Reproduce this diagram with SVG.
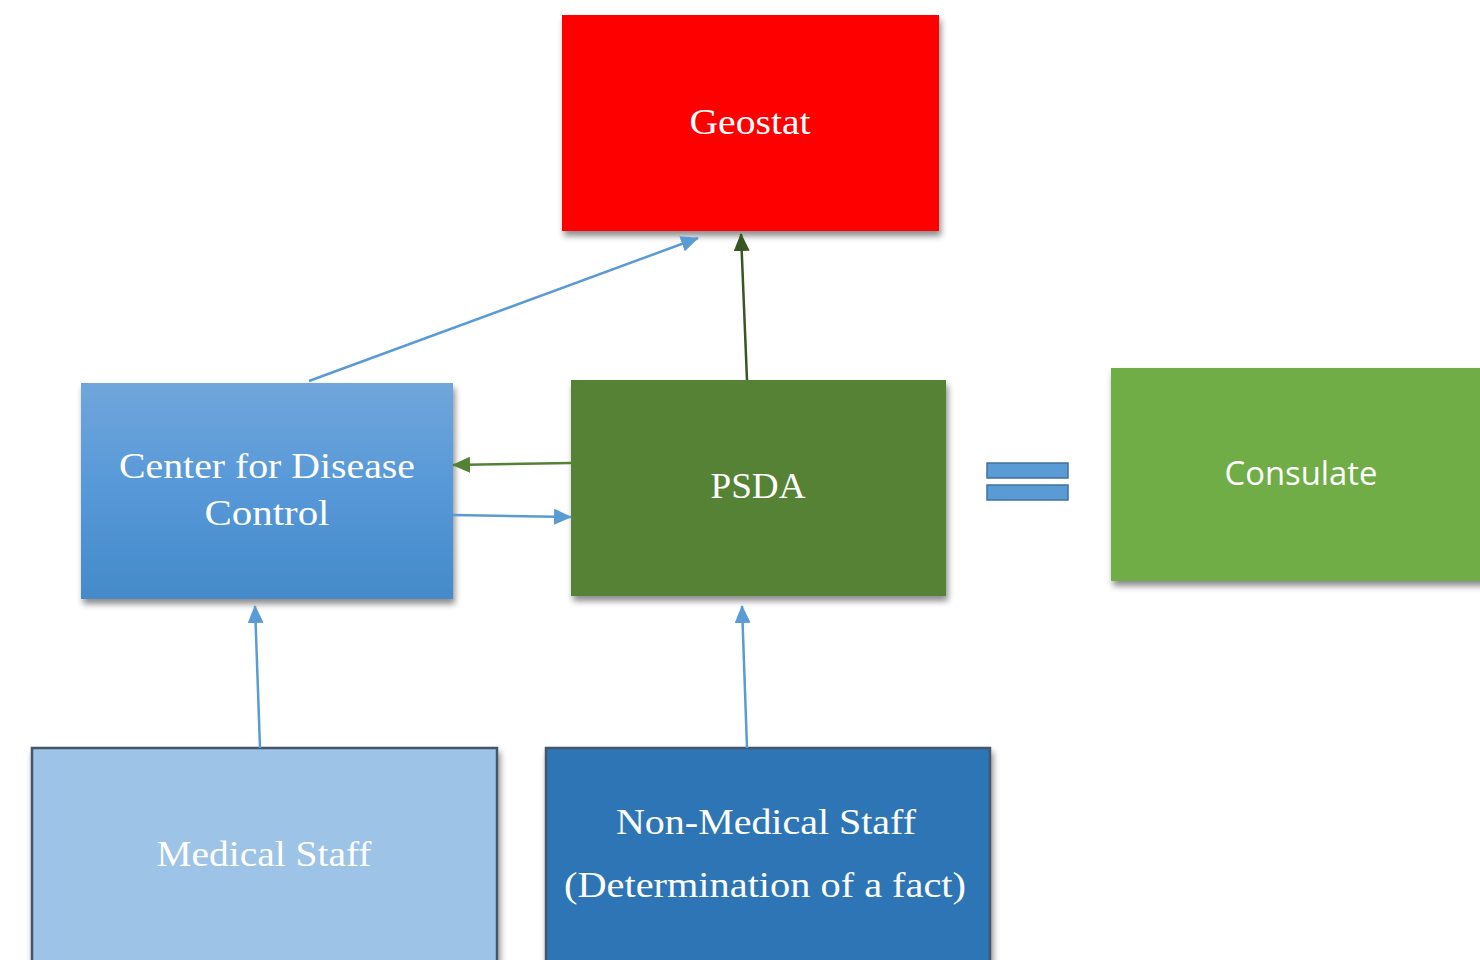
<svg xmlns="http://www.w3.org/2000/svg" width="1480" height="960" viewBox="0 0 1480 960">
<style>
.lbl{font-family:"Liberation Serif","DejaVu Serif",serif;font-size:36px;fill:#ffffff;text-anchor:middle}
.sans{font-family:"Open Sans","Liberation Sans",sans-serif;font-size:32px;fill:#ffffff;text-anchor:middle}
.blue{stroke:#5B9BD5;stroke-width:2.5;fill:none}
.dg{stroke:#375623;stroke-width:2.5;fill:none}
.mg{stroke:#548235;stroke-width:2.5;fill:none}
</style>
<defs>
<filter id="sh" x="-10%" y="-10%" width="125%" height="130%">
<feDropShadow dx="2" dy="5" stdDeviation="3" flood-color="#000" flood-opacity="0.45"/>
</filter>
<linearGradient id="cdcg" x1="0" y1="0" x2="0" y2="1">
<stop offset="0" stop-color="#70A6DB"/>
<stop offset="0.5" stop-color="#5698D8"/>
<stop offset="1" stop-color="#448AC9"/>
</linearGradient>
<marker id="ab" markerUnits="userSpaceOnUse" markerWidth="18" markerHeight="16" refX="17" refY="8" orient="auto">
<path d="M0,0 L18,8 L0,16 Z" fill="#5B9BD5"/>
</marker>
<marker id="adg" markerUnits="userSpaceOnUse" markerWidth="18" markerHeight="16" refX="17" refY="8" orient="auto">
<path d="M0,0 L18,8 L0,16 Z" fill="#375623"/>
</marker>
<marker id="amg" markerUnits="userSpaceOnUse" markerWidth="18" markerHeight="16" refX="17" refY="8" orient="auto">
<path d="M0,0 L18,8 L0,16 Z" fill="#548235"/>
</marker>
</defs>
<rect width="1480" height="960" fill="#ffffff"/>

<g id="geostat">
<rect x="562" y="15" width="377" height="216" fill="#FF0000" filter="url(#sh)"/>
<text class="lbl" x="750" y="134" textLength="121" lengthAdjust="spacingAndGlyphs">Geostat</text>
</g>

<g id="cdc">
<rect x="81" y="383" width="372" height="216" fill="url(#cdcg)" filter="url(#sh)"/>
<text class="lbl" x="267" y="478" textLength="296" lengthAdjust="spacingAndGlyphs">Center for Disease</text>
<text class="lbl" x="267" y="525" textLength="125" lengthAdjust="spacingAndGlyphs">Control</text>
</g>

<g id="psda">
<rect x="571" y="380" width="375" height="216" fill="#548235" filter="url(#sh)"/>
<text class="lbl" x="758" y="498" textLength="95" lengthAdjust="spacingAndGlyphs">PSDA</text>
</g>

<g id="equals">
<rect x="987" y="463" width="81" height="15" fill="#5B9BD5" stroke="#41719C" stroke-width="1.5"/>
<rect x="987" y="485" width="81" height="15" fill="#5B9BD5" stroke="#41719C" stroke-width="1.5"/>
</g>

<g id="consulate">
<rect x="1111" y="368" width="380" height="213" fill="#70AD47" filter="url(#sh)"/>
<text class="sans" x="1301" y="485" textLength="153" lengthAdjust="spacingAndGlyphs">Consulate</text>
</g>

<g id="medical">
<rect x="32" y="748" width="465" height="230" fill="#9DC3E6" stroke="#44546A" stroke-width="2.5" filter="url(#sh)"/>
<text class="lbl" x="264" y="866" textLength="215" lengthAdjust="spacingAndGlyphs">Medical Staff</text>
</g>

<g id="nonmedical">
<rect x="546" y="748" width="444" height="230" fill="#2E75B6" stroke="#44546A" stroke-width="2.5" filter="url(#sh)"/>
<text class="lbl" x="766" y="834" textLength="300" lengthAdjust="spacingAndGlyphs">Non-Medical Staff</text>
<text class="lbl" x="765" y="897" textLength="402" lengthAdjust="spacingAndGlyphs">(Determination of a fact)</text>
</g>

<g id="connectors">
<line class="blue" x1="309" y1="381" x2="698" y2="238" marker-end="url(#ab)"/>
<line class="dg" x1="747" y1="380" x2="741" y2="234" marker-end="url(#adg)"/>
<line class="mg" x1="571" y1="463" x2="453" y2="465" marker-end="url(#amg)"/>
<line class="blue" x1="453" y1="515" x2="571" y2="517" marker-end="url(#ab)"/>
<line class="blue" x1="260" y1="748" x2="255" y2="606" marker-end="url(#ab)"/>
<line class="blue" x1="747" y1="748" x2="742" y2="606" marker-end="url(#ab)"/>
</g>
</svg>
